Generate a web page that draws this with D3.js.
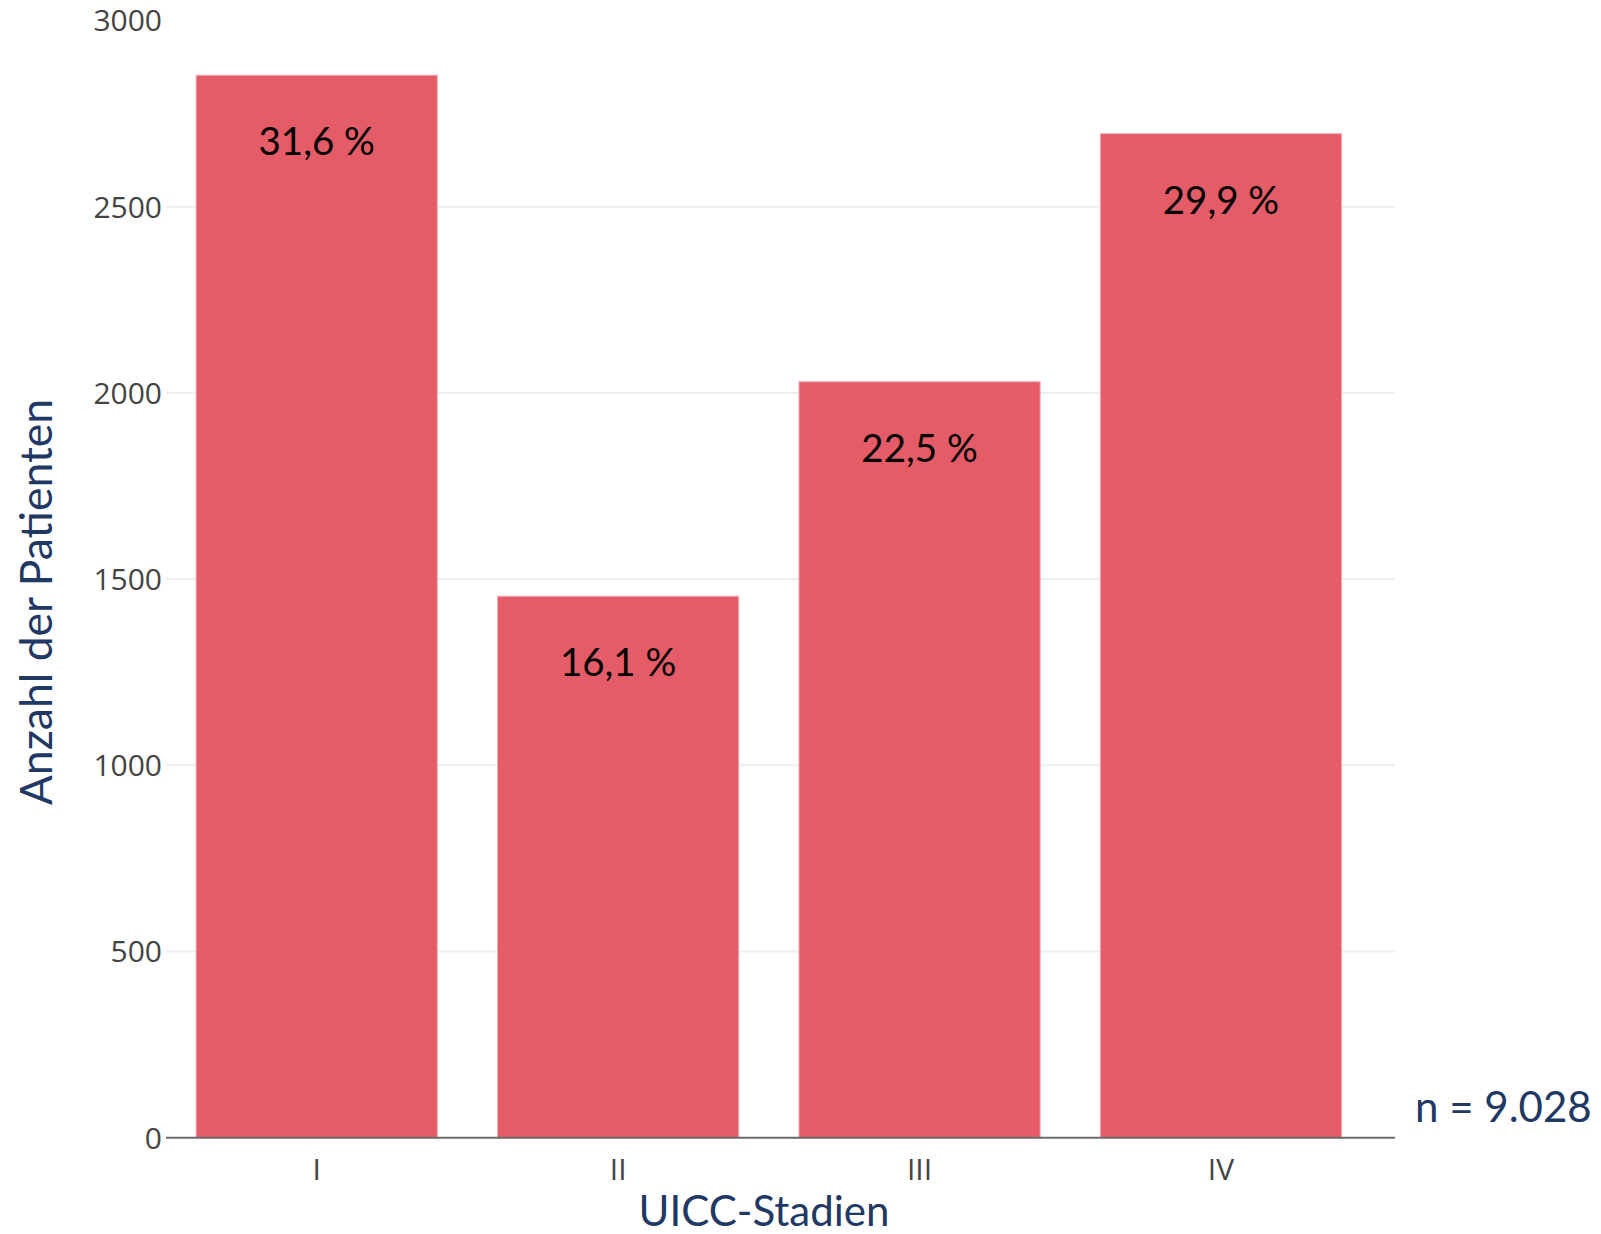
<!DOCTYPE html>
<html>
<head>
<meta charset="utf-8">
<script src="https://cdn.jsdelivr.net/npm/d3@7"></script>
<style>
  html, body { margin: 0; padding: 0; background: #fff; }
  svg { display: block; }
</style>
</head>
<body>
<svg id="chart" width="1601" height="1234"></svg>
<script>
// stages and patient counts
const stages = ["I", "II", "III", "IV"];
const patients = [2853, 1454, 2030, 2696];
const shares = ["31,6 %", "16,1 %", "22,5 %", "29,9 %"];
const yTicks = [0, 500, 1000, 1500, 2000, 2500, 3000];
const totalLabel = "n = 9.028";

const svg = d3.select("#chart");

const plotLeft = 166, plotRight = 1395, bandRight = 1371.7;
const plotTop = 20.5, plotBottom = 1137.7;

const x = d3.scaleBand()
  .domain(stages)
  .range([plotLeft, bandRight])
  .paddingInner(0.2)
  .paddingOuter(0.1);

const y = d3.scaleLinear()
  .domain([0, 3000])
  .range([plotBottom, plotTop]);

// gridlines
svg.append("g")
  .selectAll("line")
  .data(yTicks.filter((d) => d > 0 && d < 3000))
  .join("line")
  .attr("x1", plotLeft)
  .attr("x2", plotRight)
  .attr("y1", (d) => y(d))
  .attr("y2", (d) => y(d))
  .attr("stroke", "#eeeeee")
  .attr("stroke-width", 2);

// bars
svg.append("g")
  .selectAll("rect")
  .data(stages)
  .join("rect")
  .attr("x", (d) => x(d))
  .attr("y", (d, i) => y(patients[i]))
  .attr("width", x.bandwidth())
  .attr("height", (d, i) => plotBottom - y(patients[i]))
  .attr("fill", "#e45c67")
  .attr("stroke", "#f2a9af")
  .attr("stroke-width", 1);

// bottom axis line
svg.append("line")
  .attr("x1", plotLeft)
  .attr("x2", plotRight)
  .attr("y1", plotBottom)
  .attr("y2", plotBottom)
  .attr("stroke", "#6b6b6b")
  .attr("stroke-width", 2);

// y tick labels
svg.append("g")
  .selectAll("text")
  .data(yTicks)
  .join("text")
  .attr("x", 162)
  .attr("y", (d) => y(d))
  .attr("dy", "0.36em")
  .attr("text-anchor", "end")
  .style("font-family", "'Open Sans', sans-serif")
  .style("font-size", "30px")
  .style("fill", "#444")
  .text((d) => d);

// x tick labels
svg.append("g")
  .selectAll("text")
  .data(stages)
  .join("text")
  .attr("x", (d) => x(d) + x.bandwidth() / 2)
  .attr("y", 1180)
  .attr("text-anchor", "middle")
  .style("font-family", "'Open Sans', sans-serif")
  .style("font-size", "30px")
  .style("fill", "#444")
  .text((d) => d);

// share labels inside the bars
svg.append("g")
  .selectAll("text")
  .data(stages)
  .join("text")
  .attr("x", (d) => x(d) + x.bandwidth() / 2)
  .attr("y", (d, i) => y(patients[i]) + 80)
  .attr("text-anchor", "middle")
  .style("font-family", "Lato, sans-serif")
  .style("font-size", "38.5px")
  .style("fill", "#000")
  .text((d, i) => shares[i]);

// axis titles
svg.append("text")
  .attr("transform", "translate(52, 602) rotate(-90)")
  .attr("text-anchor", "middle")
  .style("font-family", "Lato, sans-serif")
  .style("font-size", "44.5px")
  .style("fill", "#1f3864")
  .text("Anzahl der Patienten");

svg.append("text")
  .attr("x", 764)
  .attr("y", 1226)
  .attr("text-anchor", "middle")
  .style("font-family", "Lato, sans-serif")
  .style("font-size", "42px")
  .style("fill", "#1f3864")
  .text("UICC-Stadien");

svg.append("text")
  .attr("x", 1415)
  .attr("y", 1122)
  .style("font-family", "Lato, sans-serif")
  .style("font-size", "42px")
  .style("fill", "#1f3864")
  .text(totalLabel);
</script>
</body>
</html>
